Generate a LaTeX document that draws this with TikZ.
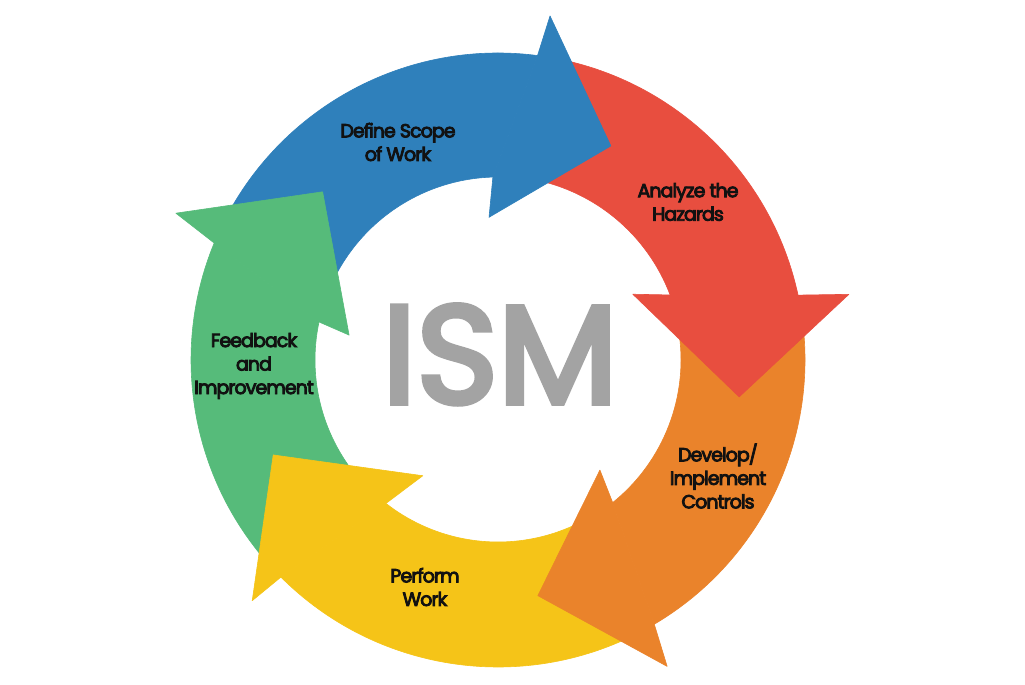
\documentclass[tikz,border=0pt]{standalone}
\usepackage{fontspec}
\newfontfamily\labfont{Poppins}[LetterSpace=-5, FakeBold=4.5]
\newfontfamily\ismfont{Poppins}[FakeBold=4]
\definecolor{cblue}{HTML}{2F80BB}
\definecolor{cred}{HTML}{E84E3F}
\definecolor{corange}{HTML}{EA832B}
\definecolor{cyellow}{HTML}{F5C418}
\definecolor{cgreen}{HTML}{56BB7A}
\definecolor{cgray}{HTML}{A3A3A3}
\definecolor{ctext}{HTML}{111111}
\tikzset{
  shp/.style={fill=#1, draw=#1, line width=0.6pt, line join=round},
  lab/.style={align=center, text=ctext, font=\labfont\fontsize{19}{23.5}\selectfont, inner sep=0pt},
}
\begin{document}
\begin{tikzpicture}[x=1pt,y=1pt]
\useasboundingbox (0,0) rectangle (1025,685);
\fill[white] (0,0) rectangle (1025,685);
\begin{scope}[shift={(498,325)}]
% ---- bodies ----
\path[shp=cblue] (155:307) arc[start angle=155,end angle=82.6,radius=307] -- (91.6:183) arc[start angle=91.6,end angle=155,radius=183] -- cycle;
\path[shp=cred] (79:307) arc[start angle=79,end angle=12.2,radius=307] -- (20.7:184) arc[start angle=20.7,end angle=79,radius=184] -- cycle;
\path[shp=corange] (9:307) arc[start angle=9,end angle=-59.4,radius=307] -- (-51.2:183) arc[start angle=-51.2,end angle=9,radius=183] -- cycle;
\path[shp=cyellow] (-63:307) arc[start angle=-63,end angle=-135,radius=307] -- (-128:182) arc[start angle=-128,end angle=-63,radius=182] -- cycle;
\path[shp=cgreen] (222:307) arc[start angle=222,end angle=157.6,radius=307] -- (168:183) arc[start angle=168,end angle=222,radius=183] -- cycle;
% ---- heads ----
\path[shp=cblue] (82.6:307) -- (81.4:348) -- (62.2:242) -- (93.6:143) -- (91.6:183) -- cycle;
\path[shp=cred] (12.2:307) -- (10.6:357) -- (-8.7:244) -- (26:150) -- (20.7:184) -- cycle;
\path[shp=corange] (-59.4:307) -- (-61.1:350) -- (-80.4:239) -- (-47.2:150) -- (-51.2:183) -- cycle;
\path[shp=cyellow] (-135:307) -- (-135.6:344) -- (-157.1:244) -- (-123:138) -- (-128:182) -- cycle;
\path[shp=cgreen] (157.6:307) -- (155.5:354) -- (136.2:243) -- (170.5:151) -- (168:183) -- cycle;
\end{scope}
% ---- labels ----
\node[lab] (scope) at (398,543) {Define Scope\\of Work};
\node[lab] (hazards) at (688,483) {Analyze the\\Hazards};
\node[lab] (controls) at (718,209) {Develop/\\Implement\\Controls};
\node[lab] (perform) at (425,98) {Perform\\Work};
\node[lab] (feedback) at (254,319) {Feedback\\and\\Improvement};
\node[text=cgray, font=\ismfont\fontsize{139}{139}\selectfont, inner sep=0pt, anchor=base] (ism) at (500,282) {ISM};
\end{tikzpicture}
\end{document}
